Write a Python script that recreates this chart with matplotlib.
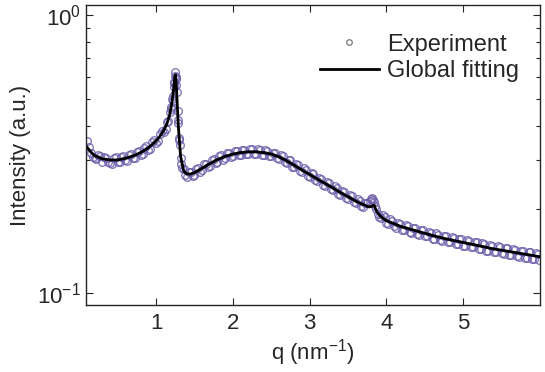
import matplotlib
matplotlib.use("Agg")
import matplotlib.pyplot as plt
from matplotlib.lines import Line2D
from matplotlib.ticker import LogLocator, NullFormatter, FixedLocator

plt.rcParams['font.family'] = ['Liberation Sans', 'DejaVu Sans']
plt.rcParams['mathtext.fontset'] = 'custom'
plt.rcParams['mathtext.rm'] = 'Liberation Sans'

# Global fitting curve
q_fit = [0.09, 0.15, 0.2, 0.3, 0.4, 0.5, 0.6, 0.7, 0.8, 0.9, 1.0, 1.05, 1.1, 1.14,
         1.18, 1.21, 1.23, 1.245, 1.255, 1.27, 1.29, 1.32, 1.36, 1.40, 1.45, 1.5,
         1.6, 1.7, 1.8, 1.9, 2.0, 2.1, 2.2, 2.3, 2.4, 2.5, 2.6, 2.7, 2.8, 2.9, 3.0,
         3.1, 3.2, 3.3, 3.4, 3.5, 3.6, 3.7, 3.77, 3.81, 3.84, 3.87, 3.92, 4.0, 4.2,
         4.4, 4.6, 4.8, 5.0, 5.2, 5.4, 5.6, 5.8, 6.0]
I_fit = [0.338, 0.322, 0.312, 0.304, 0.301, 0.301, 0.305, 0.311, 0.320, 0.333,
         0.352, 0.366, 0.384, 0.405, 0.440, 0.490, 0.545, 0.600, 0.610, 0.520,
         0.400, 0.310, 0.275, 0.268, 0.268, 0.271, 0.281, 0.292, 0.302, 0.310,
         0.316, 0.320, 0.322, 0.322, 0.320, 0.316, 0.309, 0.299, 0.288, 0.277,
         0.267, 0.257, 0.248, 0.239, 0.230, 0.222, 0.214, 0.208, 0.204, 0.205,
         0.207, 0.197, 0.189, 0.182, 0.173, 0.167, 0.161, 0.156, 0.152, 0.148,
         0.144, 0.141, 0.138, 0.135]

# Experimental data (first scan)
q_exp = [0.10, 0.15, 0.20, 0.25, 0.30, 0.35, 0.40, 0.45, 0.50, 0.55, 0.60, 0.65,
         0.70, 0.75, 0.80, 0.85, 0.90, 0.95, 1.00, 1.05, 1.10, 1.14, 1.16, 1.18,
         1.20, 1.21, 1.22, 1.23, 1.24, 1.25, 1.26, 1.27, 1.28, 1.29, 1.30, 1.31,
         1.32, 1.34, 1.36, 1.40, 1.45, 1.50, 1.55, 1.60, 1.65, 1.70, 1.75, 1.80,
         1.85, 1.90, 1.95, 2.00, 2.05, 2.10, 2.15, 2.20, 2.25, 2.30, 2.35, 2.40,
         2.45, 2.50, 2.55, 2.60, 2.65, 2.70, 2.75, 2.80, 2.85, 2.90, 2.95, 3.00,
         3.05, 3.10, 3.15, 3.20, 3.25, 3.30, 3.35, 3.40, 3.45, 3.50, 3.55, 3.60,
         3.65, 3.70, 3.75, 3.78, 3.81, 3.84, 3.87, 3.90, 3.95, 4.00, 4.05, 4.10,
         4.15, 4.20, 4.25, 4.30, 4.35, 4.40, 4.45, 4.50, 4.55, 4.60, 4.65, 4.70,
         4.75, 4.80, 4.85, 4.90, 4.95, 5.00, 5.05, 5.10, 5.15, 5.20, 5.25, 5.30,
         5.35, 5.40, 5.45, 5.50, 5.55, 5.60, 5.65, 5.70, 5.75, 5.80, 5.85, 5.90,
         5.95, 5.99]
I_exp = [0.352, 0.318, 0.305, 0.314, 0.296, 0.307, 0.294, 0.305, 0.297, 0.309,
         0.300, 0.314, 0.306, 0.321, 0.314, 0.333, 0.327, 0.349, 0.346, 0.373,
         0.379, 0.411, 0.416, 0.447, 0.468, 0.497, 0.510, 0.552, 0.575, 0.622,
         0.590, 0.530, 0.450, 0.410, 0.360, 0.340, 0.305, 0.282, 0.279, 0.262,
         0.273, 0.266, 0.282, 0.276, 0.292, 0.287, 0.303, 0.297, 0.313, 0.305,
         0.320, 0.311, 0.325, 0.314, 0.327, 0.316, 0.329, 0.317, 0.328, 0.314,
         0.325, 0.310, 0.319, 0.303, 0.310, 0.293, 0.300, 0.283, 0.289, 0.272,
         0.278, 0.262, 0.267, 0.252, 0.258, 0.243, 0.248, 0.234, 0.239, 0.225,
         0.231, 0.218, 0.223, 0.210, 0.215, 0.204, 0.210, 0.214, 0.220, 0.213,
         0.200, 0.188, 0.191, 0.178, 0.184, 0.174, 0.179, 0.169, 0.175, 0.166,
         0.172, 0.163, 0.169, 0.160, 0.166, 0.157, 0.164, 0.155, 0.161, 0.152,
         0.159, 0.150, 0.157, 0.148, 0.155, 0.146, 0.153, 0.144, 0.151, 0.142,
         0.149, 0.140, 0.147, 0.139, 0.145, 0.137, 0.144, 0.136, 0.142, 0.134,
         0.141, 0.132, 0.139, 0.131]

# Experimental data (intermediate points)
q_exp2 = [0.125, 0.175, 0.225, 0.275, 0.325, 0.375, 0.425, 0.475, 0.525, 0.575,
          0.625, 0.675, 0.725, 0.775, 0.825, 0.875, 0.925, 0.975, 1.025, 1.075,
          1.125, 1.19, 1.215, 1.235, 1.245, 1.255, 1.265, 1.285, 1.305, 1.33,
          1.375, 1.425, 1.475, 1.525, 1.575, 1.625, 1.675, 1.725, 1.775, 1.825,
          1.875, 1.925, 1.975, 2.025, 2.075, 2.125, 2.175, 2.225, 2.275, 2.325,
          2.375, 2.425, 2.475, 2.525, 2.575, 2.625, 2.675, 2.725, 2.775, 2.825,
          2.875, 2.925, 2.975, 3.025, 3.075, 3.125, 3.175, 3.225, 3.275, 3.325,
          3.375, 3.425, 3.475, 3.525, 3.575, 3.625, 3.675, 3.725, 3.795, 3.825,
          3.855, 3.885, 3.925, 3.975, 4.025, 4.075, 4.125, 4.175, 4.225, 4.275,
          4.325, 4.375, 4.425, 4.475, 4.525, 4.575, 4.625, 4.675, 4.725, 4.775,
          4.825, 4.875, 4.925, 4.975, 5.025, 5.075, 5.125, 5.175, 5.225, 5.275,
          5.325, 5.375, 5.425, 5.475, 5.525, 5.575, 5.625, 5.675, 5.725, 5.775,
          5.825, 5.875, 5.925, 5.975]
I_exp2 = [0.336, 0.309, 0.303, 0.312, 0.309, 0.296, 0.292, 0.308, 0.295, 0.311,
          0.298, 0.317, 0.305, 0.325, 0.316, 0.337, 0.330, 0.355, 0.352, 0.383,
          0.390, 0.461, 0.490, 0.570, 0.605, 0.600, 0.560, 0.420, 0.355, 0.292,
          0.266, 0.272, 0.264, 0.279, 0.272, 0.290, 0.283, 0.301, 0.293, 0.311,
          0.301, 0.318, 0.308, 0.323, 0.313, 0.327, 0.315, 0.330, 0.316, 0.329,
          0.313, 0.326, 0.311, 0.320, 0.305, 0.313, 0.296, 0.302, 0.285, 0.291,
          0.275, 0.281, 0.264, 0.270, 0.254, 0.260, 0.245, 0.251, 0.236, 0.242,
          0.227, 0.233, 0.219, 0.225, 0.212, 0.217, 0.205, 0.211, 0.217, 0.216,
          0.206, 0.192, 0.186, 0.188, 0.177, 0.182, 0.172, 0.177, 0.168, 0.174,
          0.165, 0.171, 0.162, 0.168, 0.160, 0.165, 0.157, 0.162, 0.154, 0.160,
          0.152, 0.158, 0.150, 0.156, 0.148, 0.154, 0.146, 0.152, 0.144, 0.150,
          0.142, 0.148, 0.140, 0.146, 0.138, 0.145, 0.137, 0.143, 0.135, 0.142,
          0.134, 0.140, 0.133, 0.138]

x_ticks = [1, 2, 3, 4, 5]
x_tick_labels = ['1', '2', '3', '4', '5']

text_color = '#262626'
fig = plt.figure(figsize=(5.45, 3.72), dpi=100)
ax = fig.add_axes([0.158, 0.180, 0.833, 0.806])

ax.plot(q_exp + q_exp2, I_exp + I_exp2, linestyle='none', marker='o', markersize=5.5,
        markerfacecolor='none', markeredgecolor='#6a5aa8', markeredgewidth=1.0,
        alpha=0.8)
ax.plot(q_fit, I_fit, color='black', linewidth=2.0)

ax.set_yscale('log')
ax.set_xlim(0.09, 6.0)
ax.set_ylim(0.0905, 1.085)
ax.yaxis.set_major_locator(LogLocator(base=10, numticks=5))
ax.yaxis.set_minor_locator(LogLocator(base=10, subs=range(2, 10), numticks=20))
ax.yaxis.set_minor_formatter(NullFormatter())
ax.xaxis.set_major_locator(FixedLocator(x_ticks))
ax.set_xticklabels(x_tick_labels)

ax.tick_params(which='both', direction='in', top=True, right=True,
               labelsize=16, colors=text_color, width=0.8)
ax.tick_params(which='major', length=5)
ax.tick_params(axis='x', which='major', pad=6)
ax.tick_params(which='minor', length=3)
for s in ax.spines.values():
    s.set_color(text_color)
    s.set_linewidth(1.0)

ax.set_xlabel('q (nm$^{-1}$)', fontsize=16, color=text_color, labelpad=2)
ax.set_ylabel('Intensity (a.u.)', fontsize=16, color=text_color, labelpad=5)

handles = [Line2D([], [], linestyle='none', marker='o', markersize=4,
                  markerfacecolor='none', markeredgecolor='#777777', markeredgewidth=0.9),
           Line2D([], [], color='black', linewidth=2.0)]
leg = ax.legend(handles, ['Experiment', 'Global fitting'], loc='upper right',
                frameon=False, fontsize=17, handlelength=2.5, handletextpad=0.35,
                labelspacing=0.2, borderaxespad=0.3,
                bbox_to_anchor=(0.99, 0.96))
for t in leg.get_texts():
    t.set_color(text_color)

fig.savefig('out.png', dpi=100)
